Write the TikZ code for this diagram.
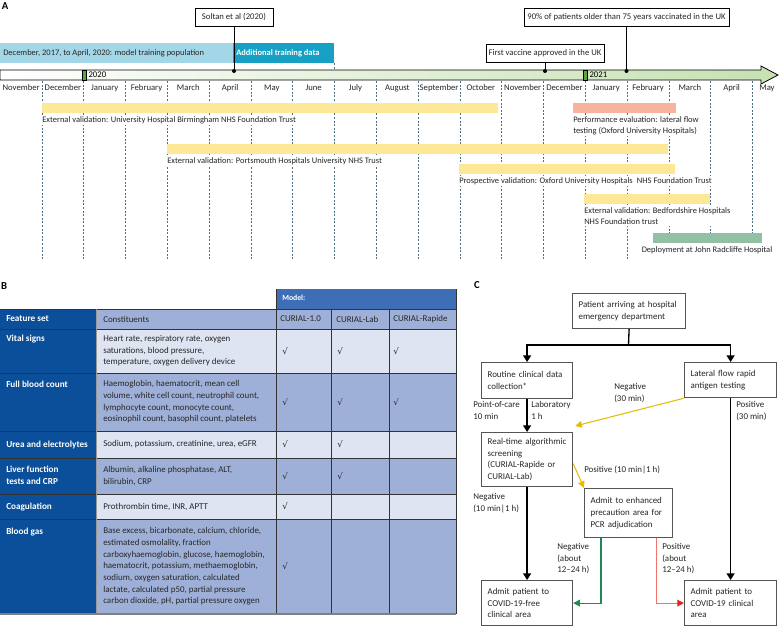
\documentclass[tikz,border=0pt]{standalone}
\usepackage{fontspec}
\setmainfont{Carlito}
\newfontfamily\chkfont{DejaVu Sans}
\usetikzlibrary{positioning,arrows.meta}

\definecolor{txtgrey}{HTML}{262626}
\definecolor{trainlight}{HTML}{A3D6E7}
\definecolor{trainteal}{HTML}{16A0C3}
\definecolor{tlgreen}{HTML}{C6E1B2}
\definecolor{yearmark}{HTML}{5BA83A}
\definecolor{valyellow}{HTML}{FDE897}
\definecolor{perfsalmon}{HTML}{F8B39C}
\definecolor{deploygreen}{HTML}{92C0A5}
\definecolor{gridline}{HTML}{4E6E82}
\definecolor{featblue}{HTML}{0B4F9B}
\definecolor{modelblue}{HTML}{3E6FB6}
\definecolor{rowlight}{HTML}{DFE4F2}
\definecolor{rowdark}{HTML}{9FB0D8}
\definecolor{boxgrey}{HTML}{555555}
\definecolor{arryellow}{HTML}{E3BE00}
\definecolor{arrgreen}{HTML}{1E8A50}
\definecolor{arrred}{HTML}{F2736C}
\definecolor{tipred}{HTML}{E52420}

\newcommand{\smallfont}{\fontsize{6.7}{8.75}\selectfont}
\newcommand{\tlfont}{\fontsize{6.35}{8.4}\selectfont}

\tikzset{
  panel/.style={font=\fontsize{8}{9}\selectfont\bfseries, inner sep=0pt},
  monthlbl/.style={font=\fontsize{6.5}{8}\selectfont, text=txtgrey, inner sep=0pt},
  monthline/.style={draw=gridline, line width=0.6pt, dash pattern=on 1.5pt off 1.2pt},
  callout/.style={draw=black, line width=0.6pt, fill=white, font=\fontsize{6.5}{8}\selectfont, text=txtgrey, inner sep=0pt, minimum height=13.5pt},
  eventdot/.style={fill=black, circle, inner sep=0pt, minimum size=3pt},
  barlbl/.style={font=\tlfont, text=txtgrey, fill=white, inner sep=1pt, align=left},
  cellt/.style={font=\smallfont, text=txtgrey, align=left, inner sep=0pt},
  featt/.style={font=\fontsize{6.9}{8.75}\selectfont\bfseries, text=white, align=left, inner sep=0pt},
  chk/.style={font=\fontsize{6.5}{8}\chkfont, text=txtgrey, inner sep=0pt, anchor=west},
  tabrule/.style={draw=black!80, line width=0.6pt},
  fbox/.style={draw=boxgrey, line width=0.9pt, fill=white, font=\smallfont, text=txtgrey, align=left, anchor=north west, inner xsep=4.5pt, inner ysep=1pt},
  flbl/.style={font=\smallfont, text=txtgrey, align=left, inner sep=0pt},
  flowline/.style={draw=black, line width=1pt},
  flowarrow/.style={flowline, -{Triangle[length=5pt,width=6pt]}},
  yarrow/.style={draw=arryellow, line width=0.8pt, -{Triangle[length=5pt,width=5pt]}},
  garrow/.style={draw=arrgreen, line width=0.8pt, -{Triangle[length=5pt,width=5pt]}},
  rarrow/.style={draw=arrred, line width=0.8pt, -{Triangle[length=5pt,width=5pt,color=tipred]}}
}

\begin{document}
\begin{tikzpicture}[x=0.75pt,y=-0.75pt]
\useasboundingbox (0,0) rectangle (779,626);

% ---- A: timeline
\node[panel] (pa) at (5,6) {A};

\foreach \k in {0,...,17}{
  \pgfmathsetmacro\xx{42+41.8*\k}
  \pgfmathsetmacro\yy{\xx>650 ? 233 : 260}
  \draw[monthline] (\xx,81) -- (\xx,\yy);
}
\draw[monthline] (334,63) -- (334,70);

\fill[trainlight] (0,43) rectangle (233,63);
\fill[trainteal] (233,43) rectangle (334,63);
\node[monthlbl, font=\tlfont, anchor=west] (trainpop) at (3,53) {December, 2017, to April, 2020: model training population};
\node[monthlbl, font=\tlfont\bfseries, text=white, anchor=west] (addtrain) at (236,53) {Additional training data};

\shadedraw[left color=white, right color=tlgreen, draw=black, line width=0.6pt]
  (0,70) -- (761,70) -- (761,66) -- (778,75) -- (761,84) -- (761,80) -- (0,80) -- cycle;

\node[draw=black, fill=yearmark, line width=0.5pt, minimum width=3pt, minimum height=7.5pt, inner sep=0pt] (y2020) at (84,75) {};
\node[monthlbl, text=black, right=1.5pt of y2020] (y2020lbl) {2020};
\node[draw=black, fill=yearmark, line width=0.5pt, minimum width=3pt, minimum height=7.5pt, inner sep=0pt] (y2021) at (585,75) {};
\node[monthlbl, text=black, right=1.5pt of y2021] (y2021lbl) {2021};

\foreach \m [count=\i from 0] in {November,December,January,February,March,April,May,June,July,August,September,October,November,December,January,February,March,April,May}
  \node[monthlbl] (month\i) at ({min(21.1+41.8*\i,767)},88) {\m};

% events
\node[callout, minimum width=58.5pt] (soltan) at (234,17) {Soltan et al (2020)};
\node[eventdot] (soltandot) at (234,71) {};
\draw[line width=0.6pt] (soltan) -- (soltandot);
\node[callout, minimum width=88.5pt] (vaccine) at (545,53) {First vaccine approved in the UK};
\node[eventdot] (vaccinedot) at (545,71) {};
\draw[line width=0.6pt] (vaccine) -- (vaccinedot);
\node[callout, minimum width=153.75pt] (over75) at (626.5,17) {90\% of patients older than 75 years vaccinated in the UK};
\node[eventdot] (over75dot) at (626.5,71) {};
\draw[line width=0.6pt] (over75) -- (over75dot);

% study periods
\fill[valyellow] (42,103) rectangle (498,113);
\coordinate (bham) at (42,113);
\node[barlbl, below right=1.5pt and -1pt of bham] (bhamlbl) {External validation: University Hospital Birmingham NHS Foundation Trust};

\fill[perfsalmon] (573,103) rectangle (676,113);
\coordinate (perf) at (573,113);
\node[barlbl, below right=1.5pt and -1pt of perf] (perflbl) {Performance evaluation: lateral flow\\testing (Oxford University Hospitals)};

\fill[valyellow] (167,144) rectangle (668,154);
\coordinate (ports) at (167,154);
\node[barlbl, below right=1.5pt and -1pt of ports] (portslbl) {External validation: Portsmouth Hospitals University NHS Trust};

\fill[valyellow] (459,164) rectangle (675,174);
\coordinate (prosp) at (459,174);
\node[barlbl, below right=1.5pt and -1pt of prosp] (prosplbl) {Prospective validation: Oxford University Hospitals\enspace NHS Foundation Trust};

\fill[valyellow] (584,194) rectangle (710,204);
\coordinate (bedf) at (584,204);
\node[barlbl, below right=1.5pt and -1pt of bedf] (bedflbl) {External validation: Bedfordshire Hospitals\\NHS Foundation trust};

\fill[deploygreen] (653,233) rectangle (762,243);
\coordinate (deploy) at (707,243);
\node[barlbl, below=1.5pt of deploy] (deploylbl) {Deployment at John Radcliffe Hospital};

% ---- B: feature table
\node[panel] (pb) at (4,286) {B};

\fill[modelblue] (276,289) rectangle (456,309);
\node[featt, font=\fontsize{5.8}{7}\selectfont\bfseries, anchor=west] (model) at (282,298) {Model:};
\fill[featblue] (0,309) rectangle (96,614);
\fill[rowdark] (96,309) rectangle (456,329);
\fill[rowlight] (96,329) rectangle (456,373);
\fill[rowdark] (96,373) rectangle (456,431);
\fill[rowlight] (96,431) rectangle (456,458);
\fill[rowdark] (96,458) rectangle (456,494);
\fill[rowlight] (96,494) rectangle (456,519);
\fill[rowdark] (96,519) rectangle (456,614);

\foreach \yy in {309,329,373,431,458,494,519}
  \draw[tabrule] (0,\yy) -- (456,\yy);
\draw[tabrule] (276,289) -- (276,614);
\draw[tabrule] (331,309) -- (331,614);
\draw[tabrule] (389,309) -- (389,614);
\draw[tabrule] (456,289) -- (456,614);
\draw[draw=black!40, line width=0.4pt] (96,309) -- (96,614);
\draw[draw=black!50, line width=1.4pt] (0,614) -- (456,614);

\node[featt, anchor=west] (feathead) at (6,319) {Feature set};
\node[cellt, anchor=west] (consthead) at (103,319) {Constituents};
\node[cellt, anchor=west] (c10head) at (280,319) {CURIAL-1.0};
\node[cellt, anchor=west] (labhead) at (336,319) {CURIAL-Lab};
\node[cellt, anchor=west] (raphead) at (393,319) {CURIAL-Rapide};

\node[cellt, anchor=west] (vitalc) at (103,351) {Heart rate, respiratory rate, oxygen\\saturations, blood pressure,\\temperature, oxygen delivery device};
\node[featt, anchor=north west] (vital) at (vitalc.north -| 6,0) {Vital signs};
\node[chk] (vital10) at (282,351) {√};
\node[chk] (vitallab) at (337,351) {√};
\node[chk] (vitalrap) at (393,351) {√};

\node[cellt, anchor=west] (fbcc) at (103,402) {Haemoglobin, haematocrit, mean cell\\volume, white cell count, neutrophil count,\\lymphocyte count, monocyte count,\\eosinophil count, basophil count, platelets};
\node[featt, anchor=north west] (fbc) at (fbcc.north -| 6,0) {Full blood count};
\node[chk] (fbc10) at (282,402) {√};
\node[chk] (fbclab) at (337,402) {√};
\node[chk] (fbcrap) at (393,402) {√};

\node[cellt, anchor=west] (uandec) at (103,444.5) {Sodium, potassium, creatinine, urea, eGFR};
\node[featt, anchor=north west] (uande) at (uandec.north -| 6,0) {Urea and electrolytes};
\node[chk] (uande10) at (282,444.5) {√};
\node[chk] (uandelab) at (337,444.5) {√};

\node[cellt, anchor=west] (liverc) at (103,476) {Albumin, alkaline phosphatase, ALT,\\bilirubin, CRP};
\node[featt, anchor=north west] (liver) at (liverc.north -| 6,0) {Liver function\\tests and CRP};
\node[chk] (liver10) at (282,476) {√};
\node[chk] (liverlab) at (337,476) {√};

\node[cellt, anchor=west] (coagc) at (103,506.5) {Prothrombin time, INR, APTT};
\node[featt, anchor=north west] (coag) at (coagc.north -| 6,0) {Coagulation};
\node[chk] (coag10) at (282,506.5) {√};

\node[cellt, anchor=west] (gasc) at (103,566.5) {Base excess, bicarbonate, calcium, chloride,\\estimated osmolality, fraction\\carboxyhaemoglobin, glucose, haemoglobin,\\haematocrit, potassium, methaemoglobin,\\sodium, oxygen saturation, calculated\\lactate, calculated p50, partial pressure\\carbon dioxide, pH, partial pressure oxygen};
\node[featt, anchor=north west] (gas) at (gasc.north -| 6,0) {Blood gas};
\node[chk] (gas10) at (282,566.5) {√};

% ---- C: pathway
\node[panel] (pc) at (477,285) {C};

\node[fbox, text width=75.75pt, minimum height=26.25pt] (patient) at (572,293) {Patient arriving at hospital\\emergency department};
\node[fbox, text width=59.25pt, minimum height=27pt] (routine) at (481,362) {Routine clinical data\\collection*};
\node[fbox, text width=60pt, minimum height=26.25pt] (lateral) at (684,362) {Lateral flow rapid\\antigen testing};
\node[fbox, text width=59.25pt, minimum height=40.5pt] (realtime) at (481,432) {Real-time algorithmic\\screening\\(CURIAL-Rapide or\\CURIAL-Lab)};
\node[fbox, text width=57pt, minimum height=36.75pt] (precaution) at (584,488) {Admit to enhanced\\precaution area for\\PCR adjudication};
\node[fbox, text width=59.25pt, minimum height=33.75pt] (free) at (481,580) {Admit patient to\\COVID-19-free\\clinical area};
\node[fbox, text width=60pt, minimum height=33.75pt] (clinical) at (684,580) {Admit patient to\\COVID-19 clinical\\area};

\coordinate (split) at (628.5,345);
\draw[flowline] (patient.south) -- (split);
\draw[flowarrow] (split) -| (routine.north);
\draw[flowarrow] (split) -| (lateral.north);
\draw[flowarrow] (routine) -- (realtime);
\draw[flowarrow] (realtime) -- (free);
\draw[flowarrow] (lateral) -- (clinical);
\draw[yarrow] (lateral.south west) -- ([xshift=1.5pt,yshift=4.5pt]realtime.north east);
\draw[yarrow] ([yshift=-3pt]realtime.east) -- (precaution.north west);
\draw[garrow] ([xshift=12.75pt]precaution.south west) |- (free.east);
\draw[rarrow] ([xshift=-12.75pt]precaution.south east) |- (clinical.west);

\node[flbl, anchor=north west] (poclbl) at (473,401) {Point-of-care\\10 min};
\node[flbl, anchor=north west] (lablbl) at (531,401) {Laboratory\\1 h};
\node[flbl, anchor=north west] (lfnlbl) at (614,383) {Negative\\(30 min)};
\node[flbl, anchor=north west] (lfplbl) at (736,401) {Positive\\(30 min)};
\node[flbl, anchor=west] (rtplbl) at (584,470) {Positive (10 min|1 h)};
\node[flbl, anchor=north west] (rtnlbl) at (473,493) {Negative\\(10 min|1 h)};
\node[flbl, anchor=north west] (pcnlbl) at (557,543) {Negative\\(about\\12–24 h)};
\node[flbl, anchor=north west] (pcplbl) at (662,543) {Positive\\(about\\12–24 h)};
\end{tikzpicture}
\end{document}
